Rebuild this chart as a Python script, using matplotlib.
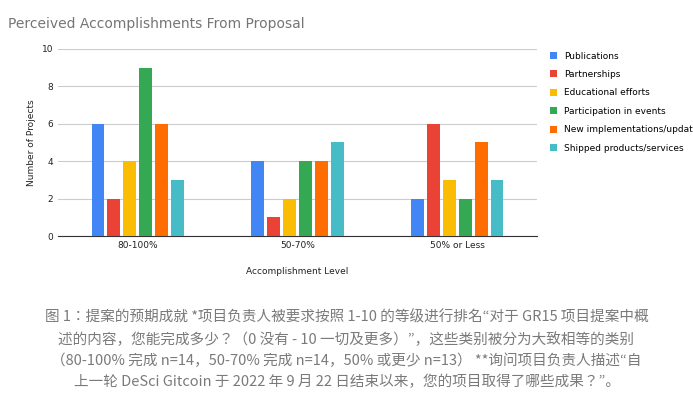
import matplotlib
matplotlib.use("Agg")
import matplotlib.pyplot as plt
import numpy as np

categories = ["80-100%", "50-70%", "50% or Less"]
series_names = ["Publications", "Partnerships", "Educational efforts", "Participation in events",
                "New implementations/updates", "Shipped products/services"]
values = [
    [6, 4, 2],
    [2, 1, 6],
    [4, 2, 3],
    [9, 4, 2],
    [6, 4, 5],
    [3, 5, 3],
]
colors = ["#4285F4", "#EA4335", "#FBBC04", "#34A853", "#FF6D01", "#46BDC6"]
caption = ("图 1：提案的预期成就 *项目负责人被要求按照 1-10 的等级进行排名“对于 GR15 项目提案中概\n"
           "述的内容，您能完成多少？（0 没有 - 10 一切及更多）”，这些类别被分为大致相等的类别\n"
           "（80-100% 完成 n=14，50-70% 完成 n=14，50% 或更少 n=13） **询问项目负责人描述“自\n"
           "上一轮 DeSci Gitcoin 于 2022 年 9 月 22 日结束以来，您的项目取得了哪些成果？”。")

fig = plt.figure(figsize=(6.93, 4.16), dpi=100)
ax = fig.add_axes([58/693, 1-236/416, 479/693, 187/416])
x = np.arange(len(categories))
w = 0.1
for i, (name, vals, c) in enumerate(zip(series_names, values, colors)):
    ax.bar(x + (i - 2.5) * w, vals, w * 0.8, color=c, label=name, zorder=3)
ax.set_ylim(0, 10)
ax.set_yticks([0, 2, 4, 6, 8, 10])
ax.set_xlim(-0.5, 2.5)
ax.set_xticks(x)
ax.set_xticklabels(categories)
ax.grid(axis="y", color="#cccccc", lw=0.8, zorder=0)
for s in ["top", "right", "left"]:
    ax.spines[s].set_visible(False)
ax.spines["bottom"].set_color("#333333")
ax.tick_params(length=0, labelsize=6.5, colors="#222222")
ax.set_xlabel("Accomplishment Level", fontsize=6.5, color="#222222", labelpad=12)
ax.set_ylabel("Number of Projects", fontsize=6.5, color="#222222")
ax.legend(loc="upper left", bbox_to_anchor=(1.01, 1.03), frameon=False, fontsize=6.5,
          handlelength=0.8, handleheight=0.8, labelspacing=1.05)
fig.text(8/693, 1-24/416, "Perceived Accomplishments From Proposal", fontsize=10, color="#757575", va="center")
fig.text(0.5, 1-350/416, caption, fontsize=10.5, color="#7a7a7a", ha="center", va="center",
         linespacing=1.6, fontfamily=["Noto Sans CJK SC", "Noto Sans CJK JP", "DejaVu Sans"])
fig.savefig("out.png", dpi=100)
